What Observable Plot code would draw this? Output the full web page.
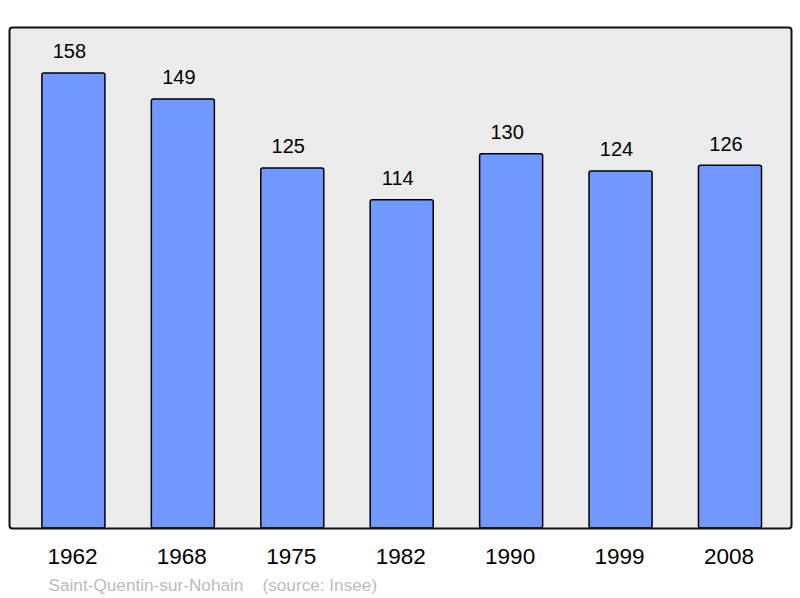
<!DOCTYPE html>
<html><head><meta charset="utf-8">
<script src="https://cdn.jsdelivr.net/npm/d3@7"></script>
<script src="https://cdn.jsdelivr.net/npm/@observablehq/plot@0.6"></script>
<style>body{margin:0;background:#fff;font-family:"Liberation Sans",Arial,sans-serif}</style>
</head><body><div id="chart"></div>
<script>
const years = ["1962","1968","1975","1982","1990","1999","2008"];
const population = [158,149,125,114,130,124,126];
const caption = "Saint-Quentin-sur-Nohain    (source: Insee)";

const data = years.map((y,i)=>({year:y, pop:population[i]}));

const chart = Plot.plot({
  width: 800, height: 598,
  marginLeft: 9, marginRight: 9, marginTop: 27, marginBottom: 70,
  style: {fontFamily: '"Liberation Sans", Arial, sans-serif', background: "white"},
  x: {domain: years, range: [18.7, 784.7], paddingInner: 0.424, paddingOuter: 0.212, round: false, axis: null},
  y: {domain: [0, 174], range: [528, 27], axis: null},
  marks: [
    Plot.frame({fill: "#ebebeb", stroke: "none", rx: 3}),
    Plot.barY(data, {x: "year", y: "pop", fill: "#7098ff", stroke: "black", strokeWidth: 1.5, rx: 2}),
    Plot.frame({fill: "none", stroke: "#111", strokeWidth: 2, rx: 3}),
    Plot.text(data, {x: "year", y: "pop", text: d => String(d.pop), dx: -4.5, dy: -21.5, fontSize: 20, fill: "black"}),
    Plot.text(years, {x: d => d, text: d => d, frameAnchor: "bottom", dx: -1.5, dy: 35.5, fontSize: 22.5, fill: "black"}),
    Plot.text([caption], {text: d => d, frameAnchor: "bottom-left", dx: 39, dy: 62, textAnchor: "start", fontSize: 17.2, fill: "#bbbbbb", style: "white-space:pre"})
  ]
});
document.getElementById("chart").appendChild(chart);
</script></body></html>
